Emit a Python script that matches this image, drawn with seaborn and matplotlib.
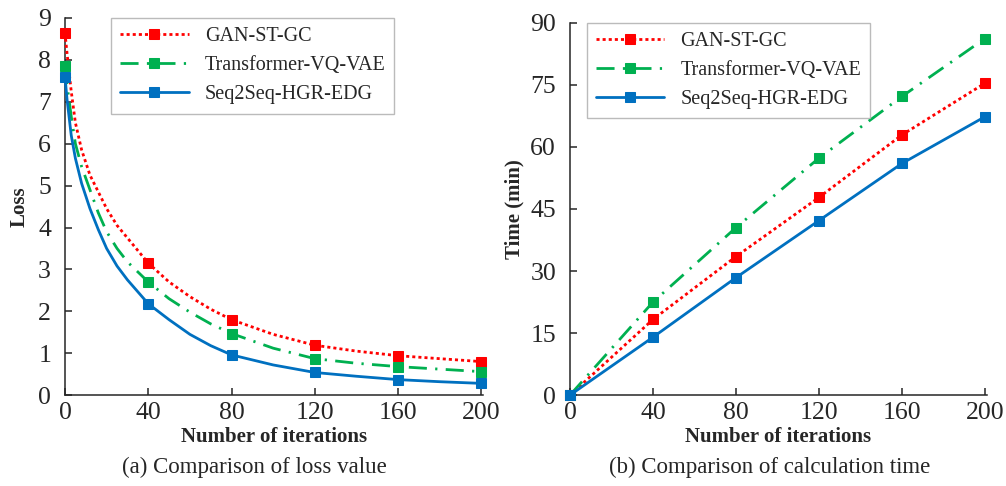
import numpy as np
import pandas as pd
import matplotlib
matplotlib.use('Agg')
import matplotlib.pyplot as plt
import seaborn as sns

#Data
methods = ['GAN-ST-GC', 'Transformer-VQ-VAE', 'Seq2Seq-HGR-EDG']
colors = ['#FF0000', '#00B050', '#0070C0']
iters = [0, 40, 80, 120, 160, 200]

#Loss curves (markers at the iteration ticks)
loss_x = [0, 1, 3, 5, 8, 12, 16, 20, 25, 30, 40, 50, 60, 70, 80, 100, 120, 140, 160, 180, 200]
loss_gan = [8.65, 8.15, 7.25, 6.5, 5.85, 5.25, 4.85, 4.45, 4.05, 3.75, 3.15, 2.7, 2.35, 2.05, 1.8,
            1.45, 1.19, 1.05, 0.94, 0.87, 0.8]
loss_trans = [7.85, 7.4, 6.65, 6.0, 5.45, 4.9, 4.35, 3.9, 3.5, 3.18, 2.7, 2.3, 1.98, 1.7, 1.47,
              1.12, 0.87, 0.76, 0.68, 0.62, 0.56]
loss_seq = [7.6, 7.05, 6.2, 5.65, 5.05, 4.45, 3.95, 3.5, 3.08, 2.75, 2.18, 1.8, 1.45, 1.18, 0.96,
            0.72, 0.54, 0.45, 0.37, 0.32, 0.28]

#Calculation time (min)
time_gan = [0, 18.3, 33.5, 47.8, 62.9, 75.4]
time_trans = [0, 22.5, 40.5, 57.3, 72.2, 86.2]
time_seq = [0, 14.0, 28.4, 42.2, 56.0, 67.3]

sns.set_style('ticks')
plt.rcParams['font.family'] = ['Liberation Serif', 'DejaVu Serif']

styles = [(0, (1.1, 1.1)), (0, (6.5, 3, 0.8, 3)), '-']

fig = plt.figure(figsize=(10.06, 4.86), dpi=100)
ax1 = fig.add_axes([0.0646, 0.187, 0.416, 0.776])
ax2 = fig.add_axes([0.5666, 0.187, 0.4145, 0.766])

#Panel (a): loss
mark_idx = [loss_x.index(v) for v in iters]
for name, col, ls, ys in zip(methods, colors, styles, [loss_gan, loss_trans, loss_seq]):
    sns.lineplot(x=loss_x, y=ys, ax=ax1, color=col, linestyle=ls, linewidth=2.0,
                 marker='s', markersize=7.5, markevery=mark_idx, markeredgecolor=col,
                 markerfacecolor=col, label=name, clip_on=False, zorder=3)

#Panel (b): time
for name, col, ls, ys in zip(methods, colors, styles, [time_gan, time_trans, time_seq]):
    sns.lineplot(x=iters, y=ys, ax=ax2, color=col, linestyle=ls, linewidth=2.0,
                 marker='s', markersize=7.5, markeredgecolor=col, markerfacecolor=col,
                 label=name, clip_on=False, zorder=3)

ax1.set_xlim(0, 201)
ax1.set_ylim(0, 9)
ax1.set_yticks(range(0, 10))
ax2.set_xlim(0, 201)
ax2.set_ylim(0, 90)
ax2.set_yticks(range(0, 91, 15))

for ax in (ax1, ax2):
    ax.set_xticks(iters)
    sns.despine(ax=ax)
    for s in ('left', 'bottom'):
        ax.spines[s].set_linewidth(1.1)
    ax.tick_params(direction='in', length=5, width=1.1, labelsize=18.5)
    ax.tick_params(axis='y', pad=10)
    ax.tick_params(axis='x', pad=5)
    ax.set_xlabel('Number of iterations', fontsize=15, fontweight='bold', labelpad=2)
    ax.legend(loc='upper left', bbox_to_anchor=(0.11, 1.0) if ax is ax1 else (0.04, 1.0),
              borderaxespad=0, fontsize=14.5, frameon=True, fancybox=False,
              edgecolor='#aaaaaa', handlelength=3.4, borderpad=0.45, labelspacing=0.5,
              handletextpad=0.8)

ax1.set_ylabel('Loss', fontsize=15, fontweight='bold', labelpad=6)
ax2.set_ylabel('Time (min)', fontsize=15, fontweight='bold', labelpad=4)

fig.text(0.253, 0.038, '(a) Comparison of loss value', ha='center', va='center', fontsize=16.5)
fig.text(0.765, 0.038, '(b) Comparison of calculation time', ha='center', va='center', fontsize=16.5)

fig.savefig('out.png', dpi=100)
